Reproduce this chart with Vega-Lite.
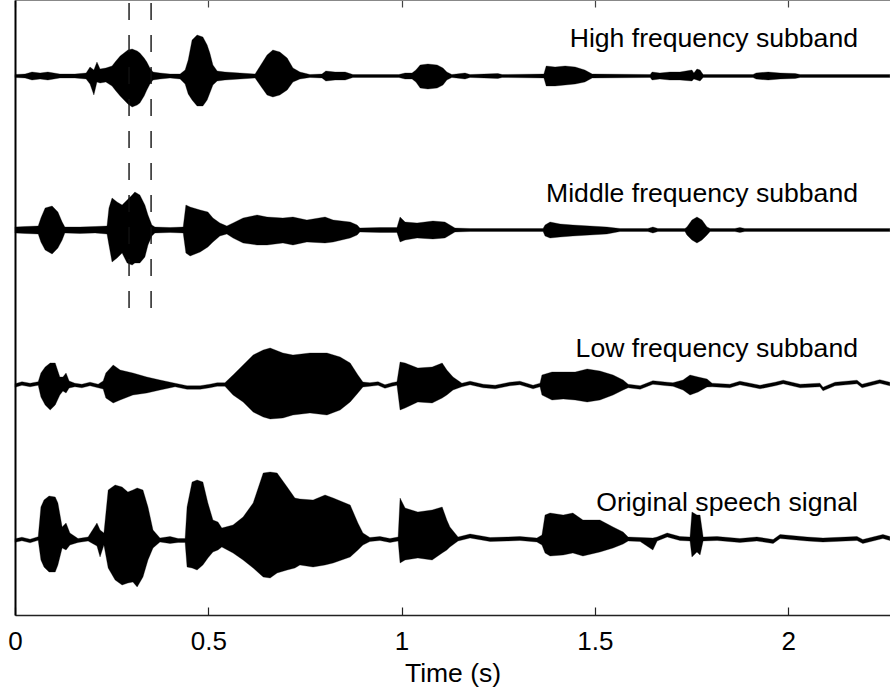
{
  "$schema": "https://vega.github.io/schema/vega-lite/v6.json",
  "width": 875,
  "height": 615,
  "autosize": {"type": "none"},
  "padding": {"left": 15, "top": 0, "right": 0, "bottom": 78},
  "background": "white",
  "config": {"view": {"stroke": null}, "font": "Liberation Sans"},
  "datasets": {
    "wave": [
      {"s":"H","t":0,"hi":5.405,"lo":5.375},{"s":"H","t":0.026,"hi":5.41,"lo":5.37},{"s":"H","t":0.044,"hi":5.43,"lo":5.35},{"s":"H","t":0.065,"hi":5.42,"lo":5.36},{"s":"H","t":0.085,"hi":5.43,"lo":5.35},{"s":"H","t":0.116,"hi":5.41,"lo":5.37},{"s":"H","t":0.155,"hi":5.41,"lo":5.37},{"s":"H","t":0.184,"hi":5.42,"lo":5.36},{"s":"H","t":0.194,"hi":5.48,"lo":5.31},{"s":"H","t":0.204,"hi":5.45,"lo":5.2},{"s":"H","t":0.212,"hi":5.53,"lo":5.33},{"s":"H","t":0.22,"hi":5.46,"lo":5.32},{"s":"H","t":0.235,"hi":5.47,"lo":5.33},{"s":"H","t":0.251,"hi":5.49,"lo":5.29},{"s":"H","t":0.259,"hi":5.53,"lo":5.25},{"s":"H","t":0.272,"hi":5.59,"lo":5.19},{"s":"H","t":0.282,"hi":5.62,"lo":5.15},{"s":"H","t":0.292,"hi":5.65,"lo":5.11},{"s":"H","t":0.303,"hi":5.66,"lo":5.08},{"s":"H","t":0.316,"hi":5.64,"lo":5.1},{"s":"H","t":0.323,"hi":5.62,"lo":5.12},{"s":"H","t":0.334,"hi":5.57,"lo":5.19},{"s":"H","t":0.341,"hi":5.53,"lo":5.25},{"s":"H","t":0.349,"hi":5.47,"lo":5.31},{"s":"H","t":0.357,"hi":5.43,"lo":5.35},{"s":"H","t":0.375,"hi":5.42,"lo":5.36},{"s":"H","t":0.401,"hi":5.41,"lo":5.37},{"s":"H","t":0.427,"hi":5.41,"lo":5.36},{"s":"H","t":0.44,"hi":5.45,"lo":5.31},{"s":"H","t":0.448,"hi":5.55,"lo":5.21},{"s":"H","t":0.458,"hi":5.75,"lo":5.15},{"s":"H","t":0.471,"hi":5.8,"lo":5.09},{"s":"H","t":0.486,"hi":5.78,"lo":5.09},{"s":"H","t":0.497,"hi":5.7,"lo":5.15},{"s":"H","t":0.504,"hi":5.62,"lo":5.22},{"s":"H","t":0.512,"hi":5.5,"lo":5.3},{"s":"H","t":0.523,"hi":5.44,"lo":5.34},{"s":"H","t":0.543,"hi":5.43,"lo":5.35},{"s":"H","t":0.582,"hi":5.42,"lo":5.36},{"s":"H","t":0.621,"hi":5.41,"lo":5.37},{"s":"H","t":0.639,"hi":5.52,"lo":5.27},{"s":"H","t":0.652,"hi":5.6,"lo":5.2},{"s":"H","t":0.667,"hi":5.65,"lo":5.18},{"s":"H","t":0.685,"hi":5.63,"lo":5.2},{"s":"H","t":0.704,"hi":5.57,"lo":5.25},{"s":"H","t":0.719,"hi":5.47,"lo":5.33},{"s":"H","t":0.737,"hi":5.43,"lo":5.36},{"s":"H","t":0.763,"hi":5.405,"lo":5.375},{"s":"H","t":0.794,"hi":5.41,"lo":5.37},{"s":"H","t":0.804,"hi":5.44,"lo":5.34},{"s":"H","t":0.828,"hi":5.43,"lo":5.35},{"s":"H","t":0.854,"hi":5.43,"lo":5.35},{"s":"H","t":0.874,"hi":5.405,"lo":5.375},{"s":"H","t":0.993,"hi":5.405,"lo":5.375},{"s":"H","t":1.009,"hi":5.42,"lo":5.36},{"s":"H","t":1.027,"hi":5.42,"lo":5.36},{"s":"H","t":1.037,"hi":5.45,"lo":5.33},{"s":"H","t":1.048,"hi":5.5,"lo":5.27},{"s":"H","t":1.068,"hi":5.51,"lo":5.26},{"s":"H","t":1.092,"hi":5.5,"lo":5.27},{"s":"H","t":1.107,"hi":5.47,"lo":5.3},{"s":"H","t":1.117,"hi":5.43,"lo":5.35},{"s":"H","t":1.13,"hi":5.405,"lo":5.375},{"s":"H","t":1.164,"hi":5.42,"lo":5.36},{"s":"H","t":1.177,"hi":5.405,"lo":5.375},{"s":"H","t":1.249,"hi":5.415,"lo":5.365},{"s":"H","t":1.26,"hi":5.405,"lo":5.375},{"s":"H","t":1.368,"hi":5.41,"lo":5.37},{"s":"H","t":1.374,"hi":5.49,"lo":5.29},{"s":"H","t":1.397,"hi":5.48,"lo":5.29},{"s":"H","t":1.423,"hi":5.49,"lo":5.3},{"s":"H","t":1.449,"hi":5.48,"lo":5.31},{"s":"H","t":1.474,"hi":5.45,"lo":5.33},{"s":"H","t":1.493,"hi":5.41,"lo":5.37},{"s":"H","t":1.643,"hi":5.405,"lo":5.375},{"s":"H","t":1.648,"hi":5.43,"lo":5.35},{"s":"H","t":1.668,"hi":5.42,"lo":5.36},{"s":"H","t":1.694,"hi":5.43,"lo":5.35},{"s":"H","t":1.72,"hi":5.43,"lo":5.35},{"s":"H","t":1.751,"hi":5.45,"lo":5.34},{"s":"H","t":1.756,"hi":5.42,"lo":5.36},{"s":"H","t":1.764,"hi":5.46,"lo":5.35},{"s":"H","t":1.772,"hi":5.45,"lo":5.34},{"s":"H","t":1.78,"hi":5.405,"lo":5.375},{"s":"H","t":1.909,"hi":5.405,"lo":5.375},{"s":"H","t":1.917,"hi":5.42,"lo":5.36},{"s":"H","t":1.948,"hi":5.43,"lo":5.35},{"s":"H","t":1.979,"hi":5.42,"lo":5.36},{"s":"H","t":2.018,"hi":5.415,"lo":5.365},{"s":"H","t":2.031,"hi":5.405,"lo":5.375},{"s":"H","t":2.263,"hi":5.405,"lo":5.375},

      {"s":"M","t":0,"hi":3.88,"lo":3.82},{"s":"M","t":0.026,"hi":3.885,"lo":3.815},{"s":"M","t":0.06,"hi":3.89,"lo":3.81},{"s":"M","t":0.067,"hi":3.97,"lo":3.73},{"s":"M","t":0.078,"hi":4.07,"lo":3.65},{"s":"M","t":0.096,"hi":4.09,"lo":3.61},{"s":"M","t":0.111,"hi":4.03,"lo":3.67},{"s":"M","t":0.122,"hi":3.93,"lo":3.75},{"s":"M","t":0.129,"hi":3.88,"lo":3.82},{"s":"M","t":0.168,"hi":3.88,"lo":3.815},{"s":"M","t":0.207,"hi":3.885,"lo":3.82},{"s":"M","t":0.238,"hi":3.89,"lo":3.81},{"s":"M","t":0.243,"hi":4.07,"lo":3.7},{"s":"M","t":0.251,"hi":4.17,"lo":3.53},{"s":"M","t":0.264,"hi":4.13,"lo":3.57},{"s":"M","t":0.277,"hi":4.1,"lo":3.62},{"s":"M","t":0.29,"hi":4.15,"lo":3.52},{"s":"M","t":0.303,"hi":4.2,"lo":3.5},{"s":"M","t":0.31,"hi":4.23,"lo":3.52},{"s":"M","t":0.323,"hi":4.2,"lo":3.52},{"s":"M","t":0.336,"hi":4.1,"lo":3.58},{"s":"M","t":0.344,"hi":4.0,"lo":3.7},{"s":"M","t":0.354,"hi":3.9,"lo":3.79},{"s":"M","t":0.362,"hi":3.88,"lo":3.82},{"s":"M","t":0.401,"hi":3.875,"lo":3.825},{"s":"M","t":0.435,"hi":3.88,"lo":3.82},{"s":"M","t":0.442,"hi":4.1,"lo":3.62},{"s":"M","t":0.453,"hi":4.08,"lo":3.59},{"s":"M","t":0.479,"hi":4.05,"lo":3.63},{"s":"M","t":0.499,"hi":4.03,"lo":3.68},{"s":"M","t":0.512,"hi":3.97,"lo":3.73},{"s":"M","t":0.53,"hi":3.92,"lo":3.79},{"s":"M","t":0.548,"hi":3.89,"lo":3.81},{"s":"M","t":0.564,"hi":3.92,"lo":3.77},{"s":"M","t":0.59,"hi":3.97,"lo":3.72},{"s":"M","t":0.626,"hi":4.0,"lo":3.7},{"s":"M","t":0.652,"hi":3.98,"lo":3.7},{"s":"M","t":0.693,"hi":3.97,"lo":3.72},{"s":"M","t":0.719,"hi":3.98,"lo":3.7},{"s":"M","t":0.755,"hi":3.95,"lo":3.73},{"s":"M","t":0.802,"hi":3.98,"lo":3.72},{"s":"M","t":0.823,"hi":3.95,"lo":3.73},{"s":"M","t":0.867,"hi":3.93,"lo":3.77},{"s":"M","t":0.885,"hi":3.9,"lo":3.8},{"s":"M","t":0.892,"hi":3.87,"lo":3.83},{"s":"M","t":0.944,"hi":3.875,"lo":3.825},{"s":"M","t":0.988,"hi":3.875,"lo":3.825},{"s":"M","t":0.996,"hi":3.98,"lo":3.73},{"s":"M","t":1.009,"hi":3.93,"lo":3.75},{"s":"M","t":1.04,"hi":3.92,"lo":3.77},{"s":"M","t":1.081,"hi":3.94,"lo":3.76},{"s":"M","t":1.112,"hi":3.93,"lo":3.77},{"s":"M","t":1.125,"hi":3.9,"lo":3.8},{"s":"M","t":1.138,"hi":3.87,"lo":3.83},{"s":"M","t":1.177,"hi":3.865,"lo":3.835},{"s":"M","t":1.366,"hi":3.865,"lo":3.835},{"s":"M","t":1.371,"hi":3.9,"lo":3.79},{"s":"M","t":1.384,"hi":3.93,"lo":3.77},{"s":"M","t":1.41,"hi":3.91,"lo":3.78},{"s":"M","t":1.443,"hi":3.9,"lo":3.79},{"s":"M","t":1.487,"hi":3.89,"lo":3.8},{"s":"M","t":1.531,"hi":3.88,"lo":3.81},{"s":"M","t":1.565,"hi":3.865,"lo":3.835},{"s":"M","t":1.637,"hi":3.865,"lo":3.835},{"s":"M","t":1.65,"hi":3.88,"lo":3.82},{"s":"M","t":1.663,"hi":3.865,"lo":3.835},{"s":"M","t":1.733,"hi":3.865,"lo":3.835},{"s":"M","t":1.738,"hi":3.88,"lo":3.8},{"s":"M","t":1.751,"hi":3.95,"lo":3.75},{"s":"M","t":1.764,"hi":3.98,"lo":3.72},{"s":"M","t":1.777,"hi":3.95,"lo":3.75},{"s":"M","t":1.79,"hi":3.88,"lo":3.8},{"s":"M","t":1.798,"hi":3.865,"lo":3.835},{"s":"M","t":1.862,"hi":3.865,"lo":3.835},{"s":"M","t":1.875,"hi":3.875,"lo":3.825},{"s":"M","t":1.888,"hi":3.865,"lo":3.835},{"s":"M","t":2.263,"hi":3.865,"lo":3.835},

      {"s":"L","t":0,"hi":2.313,"lo":2.277},{"s":"L","t":0.018,"hi":2.333,"lo":2.297},{"s":"L","t":0.039,"hi":2.318,"lo":2.282},{"s":"L","t":0.06,"hi":2.333,"lo":2.297},{"s":"L","t":0.067,"hi":2.42,"lo":2.18},{"s":"L","t":0.078,"hi":2.48,"lo":2.1},{"s":"L","t":0.091,"hi":2.52,"lo":2.05},{"s":"L","t":0.104,"hi":2.52,"lo":2.1},{"s":"L","t":0.116,"hi":2.38,"lo":2.2},{"s":"L","t":0.124,"hi":2.38,"lo":2.24},{"s":"L","t":0.132,"hi":2.42,"lo":2.22},{"s":"L","t":0.14,"hi":2.34,"lo":2.27},{"s":"L","t":0.155,"hi":2.318,"lo":2.282},{"s":"L","t":0.173,"hi":2.308,"lo":2.272},{"s":"L","t":0.194,"hi":2.328,"lo":2.292},{"s":"L","t":0.215,"hi":2.308,"lo":2.272},{"s":"L","t":0.228,"hi":2.34,"lo":2.26},{"s":"L","t":0.235,"hi":2.42,"lo":2.17},{"s":"L","t":0.254,"hi":2.5,"lo":2.12},{"s":"L","t":0.272,"hi":2.45,"lo":2.15},{"s":"L","t":0.305,"hi":2.42,"lo":2.2},{"s":"L","t":0.341,"hi":2.38,"lo":2.22},{"s":"L","t":0.375,"hi":2.35,"lo":2.25},{"s":"L","t":0.414,"hi":2.318,"lo":2.282},{"s":"L","t":0.445,"hi":2.293,"lo":2.257},{"s":"L","t":0.479,"hi":2.293,"lo":2.257},{"s":"L","t":0.504,"hi":2.308,"lo":2.272},{"s":"L","t":0.523,"hi":2.323,"lo":2.287},{"s":"L","t":0.543,"hi":2.323,"lo":2.287},{"s":"L","t":0.564,"hi":2.4,"lo":2.2},{"s":"L","t":0.59,"hi":2.5,"lo":2.13},{"s":"L","t":0.616,"hi":2.6,"lo":2.03},{"s":"L","t":0.642,"hi":2.65,"lo":1.98},{"s":"L","t":0.66,"hi":2.67,"lo":1.96},{"s":"L","t":0.693,"hi":2.62,"lo":1.97},{"s":"L","t":0.719,"hi":2.6,"lo":2.0},{"s":"L","t":0.763,"hi":2.62,"lo":2.02},{"s":"L","t":0.807,"hi":2.62,"lo":2.0},{"s":"L","t":0.841,"hi":2.58,"lo":2.05},{"s":"L","t":0.867,"hi":2.52,"lo":2.13},{"s":"L","t":0.887,"hi":2.4,"lo":2.22},{"s":"L","t":0.9,"hi":2.33,"lo":2.28},{"s":"L","t":0.918,"hi":2.323,"lo":2.287},{"s":"L","t":0.939,"hi":2.333,"lo":2.297},{"s":"L","t":0.957,"hi":2.303,"lo":2.267},{"s":"L","t":0.975,"hi":2.323,"lo":2.287},{"s":"L","t":0.988,"hi":2.333,"lo":2.297},{"s":"L","t":0.996,"hi":2.53,"lo":2.05},{"s":"L","t":1.009,"hi":2.52,"lo":2.07},{"s":"L","t":1.042,"hi":2.47,"lo":2.13},{"s":"L","t":1.079,"hi":2.48,"lo":2.12},{"s":"L","t":1.105,"hi":2.52,"lo":2.17},{"s":"L","t":1.117,"hi":2.45,"lo":2.2},{"s":"L","t":1.133,"hi":2.38,"lo":2.25},{"s":"L","t":1.156,"hi":2.318,"lo":2.282},{"s":"L","t":1.177,"hi":2.338,"lo":2.302},{"s":"L","t":1.211,"hi":2.308,"lo":2.272},{"s":"L","t":1.242,"hi":2.298,"lo":2.262},{"s":"L","t":1.28,"hi":2.328,"lo":2.292},{"s":"L","t":1.306,"hi":2.338,"lo":2.302},{"s":"L","t":1.34,"hi":2.298,"lo":2.262},{"s":"L","t":1.358,"hi":2.318,"lo":2.282},{"s":"L","t":1.363,"hi":2.4,"lo":2.2},{"s":"L","t":1.389,"hi":2.43,"lo":2.15},{"s":"L","t":1.418,"hi":2.43,"lo":2.16},{"s":"L","t":1.449,"hi":2.43,"lo":2.15},{"s":"L","t":1.48,"hi":2.46,"lo":2.13},{"s":"L","t":1.513,"hi":2.44,"lo":2.15},{"s":"L","t":1.547,"hi":2.4,"lo":2.2},{"s":"L","t":1.573,"hi":2.35,"lo":2.25},{"s":"L","t":1.586,"hi":2.308,"lo":2.272},{"s":"L","t":1.617,"hi":2.293,"lo":2.257},{"s":"L","t":1.65,"hi":2.343,"lo":2.307},{"s":"L","t":1.687,"hi":2.328,"lo":2.292},{"s":"L","t":1.702,"hi":2.323,"lo":2.287},{"s":"L","t":1.728,"hi":2.35,"lo":2.25},{"s":"L","t":1.746,"hi":2.4,"lo":2.2},{"s":"L","t":1.767,"hi":2.38,"lo":2.23},{"s":"L","t":1.79,"hi":2.36,"lo":2.28},{"s":"L","t":1.803,"hi":2.318,"lo":2.282},{"s":"L","t":1.849,"hi":2.308,"lo":2.272},{"s":"L","t":1.875,"hi":2.338,"lo":2.302},{"s":"L","t":1.927,"hi":2.298,"lo":2.262},{"s":"L","t":1.966,"hi":2.328,"lo":2.292},{"s":"L","t":1.987,"hi":2.348,"lo":2.312},{"s":"L","t":2.031,"hi":2.308,"lo":2.272},{"s":"L","t":2.082,"hi":2.318,"lo":2.282},{"s":"L","t":2.09,"hi":2.278,"lo":2.242},{"s":"L","t":2.121,"hi":2.328,"lo":2.292},{"s":"L","t":2.178,"hi":2.348,"lo":2.312},{"s":"L","t":2.191,"hi":2.308,"lo":2.272},{"s":"L","t":2.237,"hi":2.353,"lo":2.317},{"s":"L","t":2.263,"hi":2.328,"lo":2.292},

      {"s":"O","t":0,"hi":0.763,"lo":0.727},{"s":"O","t":0.018,"hi":0.778,"lo":0.742},{"s":"O","t":0.039,"hi":0.758,"lo":0.722},{"s":"O","t":0.06,"hi":0.783,"lo":0.747},{"s":"O","t":0.067,"hi":1.08,"lo":0.55},{"s":"O","t":0.075,"hi":1.15,"lo":0.48},{"s":"O","t":0.088,"hi":1.19,"lo":0.43},{"s":"O","t":0.104,"hi":1.18,"lo":0.43},{"s":"O","t":0.111,"hi":1.12,"lo":0.5},{"s":"O","t":0.122,"hi":0.88,"lo":0.67},{"s":"O","t":0.132,"hi":0.92,"lo":0.65},{"s":"O","t":0.142,"hi":0.82,"lo":0.7},{"s":"O","t":0.163,"hi":0.765,"lo":0.725},{"s":"O","t":0.189,"hi":0.78,"lo":0.74},{"s":"O","t":0.212,"hi":0.92,"lo":0.69},{"s":"O","t":0.22,"hi":0.85,"lo":0.58},{"s":"O","t":0.23,"hi":0.82,"lo":0.7},{"s":"O","t":0.241,"hi":1.25,"lo":0.47},{"s":"O","t":0.259,"hi":1.3,"lo":0.35},{"s":"O","t":0.277,"hi":1.28,"lo":0.3},{"s":"O","t":0.292,"hi":1.23,"lo":0.32},{"s":"O","t":0.305,"hi":1.25,"lo":0.33},{"s":"O","t":0.316,"hi":1.27,"lo":0.28},{"s":"O","t":0.331,"hi":1.25,"lo":0.38},{"s":"O","t":0.344,"hi":1.08,"lo":0.55},{"s":"O","t":0.357,"hi":0.85,"lo":0.67},{"s":"O","t":0.375,"hi":0.77,"lo":0.73},{"s":"O","t":0.401,"hi":0.785,"lo":0.715},{"s":"O","t":0.422,"hi":0.765,"lo":0.725},{"s":"O","t":0.44,"hi":0.765,"lo":0.725},{"s":"O","t":0.445,"hi":1.08,"lo":0.48},{"s":"O","t":0.458,"hi":1.33,"lo":0.47},{"s":"O","t":0.471,"hi":1.35,"lo":0.45},{"s":"O","t":0.486,"hi":1.33,"lo":0.5},{"s":"O","t":0.499,"hi":1.12,"lo":0.57},{"s":"O","t":0.512,"hi":0.95,"lo":0.63},{"s":"O","t":0.525,"hi":0.93,"lo":0.65},{"s":"O","t":0.535,"hi":0.87,"lo":0.68},{"s":"O","t":0.564,"hi":0.9,"lo":0.62},{"s":"O","t":0.59,"hi":0.98,"lo":0.55},{"s":"O","t":0.616,"hi":1.12,"lo":0.47},{"s":"O","t":0.642,"hi":1.42,"lo":0.38},{"s":"O","t":0.66,"hi":1.43,"lo":0.37},{"s":"O","t":0.678,"hi":1.42,"lo":0.42},{"s":"O","t":0.704,"hi":1.28,"lo":0.45},{"s":"O","t":0.724,"hi":1.17,"lo":0.47},{"s":"O","t":0.737,"hi":1.16,"lo":0.5},{"s":"O","t":0.771,"hi":1.15,"lo":0.48},{"s":"O","t":0.802,"hi":1.2,"lo":0.5},{"s":"O","t":0.823,"hi":1.17,"lo":0.52},{"s":"O","t":0.867,"hi":1.1,"lo":0.58},{"s":"O","t":0.887,"hi":0.92,"lo":0.65},{"s":"O","t":0.9,"hi":0.82,"lo":0.7},{"s":"O","t":0.918,"hi":0.775,"lo":0.735},{"s":"O","t":0.944,"hi":0.785,"lo":0.745},{"s":"O","t":0.97,"hi":0.765,"lo":0.725},{"s":"O","t":0.991,"hi":0.78,"lo":0.74},{"s":"O","t":0.996,"hi":1.17,"lo":0.52},{"s":"O","t":1.009,"hi":1.07,"lo":0.55},{"s":"O","t":1.042,"hi":1.03,"lo":0.57},{"s":"O","t":1.079,"hi":1.05,"lo":0.55},{"s":"O","t":1.105,"hi":1.08,"lo":0.62},{"s":"O","t":1.117,"hi":0.95,"lo":0.65},{"s":"O","t":1.125,"hi":0.88,"lo":0.68},{"s":"O","t":1.146,"hi":0.78,"lo":0.74},{"s":"O","t":1.177,"hi":0.81,"lo":0.77},{"s":"O","t":1.229,"hi":0.775,"lo":0.735},{"s":"O","t":1.273,"hi":0.78,"lo":0.74},{"s":"O","t":1.306,"hi":0.785,"lo":0.745},{"s":"O","t":1.35,"hi":0.77,"lo":0.73},{"s":"O","t":1.363,"hi":0.8,"lo":0.7},{"s":"O","t":1.371,"hi":1.0,"lo":0.62},{"s":"O","t":1.384,"hi":1.02,"lo":0.59},{"s":"O","t":1.418,"hi":1.0,"lo":0.6},{"s":"O","t":1.443,"hi":1.02,"lo":0.62},{"s":"O","t":1.469,"hi":0.95,"lo":0.59},{"s":"O","t":1.513,"hi":0.95,"lo":0.63},{"s":"O","t":1.547,"hi":0.88,"lo":0.67},{"s":"O","t":1.573,"hi":0.83,"lo":0.71},{"s":"O","t":1.586,"hi":0.78,"lo":0.74},{"s":"O","t":1.617,"hi":0.775,"lo":0.735},{"s":"O","t":1.65,"hi":0.77,"lo":0.65},{"s":"O","t":1.661,"hi":0.78,"lo":0.74},{"s":"O","t":1.687,"hi":0.82,"lo":0.78},{"s":"O","t":1.72,"hi":0.785,"lo":0.745},{"s":"O","t":1.746,"hi":0.78,"lo":0.74},{"s":"O","t":1.751,"hi":1.03,"lo":0.58},{"s":"O","t":1.764,"hi":1.0,"lo":0.63},{"s":"O","t":1.772,"hi":1.0,"lo":0.6},{"s":"O","t":1.78,"hi":0.78,"lo":0.74},{"s":"O","t":1.816,"hi":0.785,"lo":0.745},{"s":"O","t":1.875,"hi":0.765,"lo":0.725},{"s":"O","t":1.919,"hi":0.78,"lo":0.74},{"s":"O","t":1.961,"hi":0.755,"lo":0.715},{"s":"O","t":1.979,"hi":0.805,"lo":0.765},{"s":"O","t":2.049,"hi":0.78,"lo":0.74},{"s":"O","t":2.09,"hi":0.77,"lo":0.73},{"s":"O","t":2.178,"hi":0.785,"lo":0.745},{"s":"O","t":2.193,"hi":0.755,"lo":0.715},{"s":"O","t":2.245,"hi":0.805,"lo":0.765},{"s":"O","t":2.263,"hi":0.785,"lo":0.745}
    ],
    "frame": [
      {"t": 0.295, "top": 6.12, "bottom": 3.07},
      {"t": 0.352, "top": 6.12, "bottom": 3.07}
    ],
    "labels": [
      {"t": 2.1805, "y": 5.68, "label": "High frequency subband"},
      {"t": 2.1805, "y": 4.13, "label": "Middle frequency subband"},
      {"t": 2.1805, "y": 2.58, "label": "Low frequency subband"},
      {"t": 2.1805, "y": 1.04, "label": "Original speech signal"}
    ]
  },
  "resolve": {"axis": {"x": "independent", "y": "independent"}},
  "layer": [
    {
      "data": {"name": "wave"},
      "mark": {"type": "area", "fill": "black", "stroke": "black", "strokeWidth": 0.3, "interpolate": "linear"},
      "encoding": {
        "x": {
          "field": "t", "type": "quantitative",
          "scale": {"domain": [0, 2.2633], "nice": false, "zero": false},
          "axis": {
            "orient": "bottom", "values": [0, 0.5, 1, 1.5, 2], "format": "~g",
            "title": "Time (s)", "grid": false,
            "domainColor": "#222", "domainWidth": 1.5,
            "tickColor": "#222", "tickWidth": 1.2, "tickSize": -8,
            "labelFont": "Liberation Sans", "labelFontSize": 26, "labelColor": "black", "labelPadding": 21,
            "labelFlush": false,
            "titleFont": "Liberation Sans", "titleFontSize": 26.5, "titleFontWeight": "normal", "titleColor": "black", "titlePadding": 6
          }
        },
        "y": {
          "field": "hi", "type": "quantitative",
          "scale": {"domain": [0, 6.15], "nice": false, "zero": false},
          "axis": {"orient": "left", "title": null, "labels": false, "ticks": false, "grid": false, "domainColor": "black", "domainWidth": 2}
        },
        "y2": {"field": "lo"},
        "detail": {"field": "s"}
      }
    },
    {
      "data": {"name": "frame"},
      "mark": {"type": "rule", "stroke": "#111", "strokeWidth": 1.4, "strokeDash": [17, 15]},
      "encoding": {
        "x": {
          "field": "t", "type": "quantitative",
          "axis": {"orient": "top", "values": [0, 0.5, 1, 1.5, 2], "labels": false, "title": null, "grid": false,
                   "domainColor": "#888", "domainWidth": 1, "tickColor": "#444", "tickWidth": 1.2, "tickSize": -7}
        },
        "y": {"field": "top", "type": "quantitative", "axis": null},
        "y2": {"field": "bottom"}
      }
    },
    {
      "data": {"name": "labels"},
      "mark": {"type": "text", "align": "right", "baseline": "alphabetic", "font": "Liberation Sans", "fontSize": 26.6, "color": "black"},
      "encoding": {
        "x": {"field": "t", "type": "quantitative", "axis": null},
        "y": {"field": "y", "type": "quantitative", "axis": null},
        "text": {"field": "label"}
      }
    }
  ]
}
